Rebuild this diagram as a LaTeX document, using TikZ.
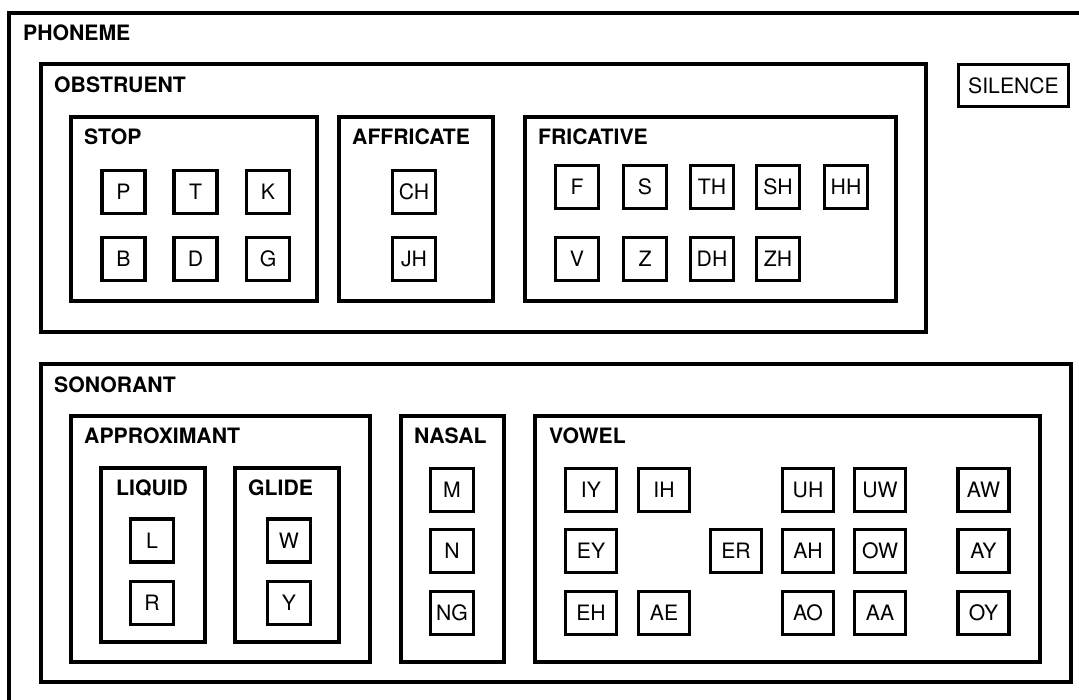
\documentclass[tikz,border=0pt]{standalone}
\usepackage{fontspec}
\setmainfont{TeX Gyre Heros}
\begin{document}
\begin{tikzpicture}[x=1pt,y=-1pt,
  grp/.style={draw=black,line width=3.7pt},
  glab/.style={anchor=base west,inner sep=0pt,font=\fontsize{21.2}{25}\selectfont\bfseries},
  ph/.style={draw=black,line width=3.7pt,minimum width=43pt,minimum height=43pt,inner sep=0pt,
    text height=15pt,text depth=0pt,font=\fontsize{21.2}{25}\selectfont},
  vw/.style={ph,minimum width=51pt}]
\useasboundingbox (0,0) rectangle (1079,699);
\fill[white] (0,0) rectangle (1079,699);
% PHONEME (open to right and bottom)
\coordinate (phTR) at (1090,13);
\coordinate (phTL) at (9,13);
\coordinate (phBL) at (9,710);
\draw[grp] (phTR) -- (phTL) -- (phBL);
\node[glab] (lPHONEME) at (23,40) {PHONEME};
% OBSTRUENT
\draw[grp] (41,64) rectangle (926,332);
\node[glab] (lOBS) at (54,92) {OBSTRUENT};
\draw[grp] (71,117) rectangle (317,301);
\node[glab] (lSTOP) at (84,144) {STOP};
\draw[grp] (339,117) rectangle (493,301);
\node[glab] (lAFF) at (352,144) {AFFRICATE};
\draw[grp] (525,117) rectangle (896,301);
\node[glab] (lFRIC) at (538,144) {FRICATIVE};
% SILENCE
\node[ph,minimum width=110pt,minimum height=42pt] (SIL) at (1013.5,85.5) {SILENCE};
% stops
\node[ph] (P) at (123.5,192) {P};
\node[ph] (T) at (195.5,192) {T};
\node[ph] (K) at (268,192) {K};
\node[ph] (B) at (123.5,259) {B};
\node[ph] (D) at (195.5,259) {D};
\node[ph] (G) at (268,259) {G};
% affricates
\node[ph] (CH) at (414,192) {CH};
\node[ph] (JH) at (414,259) {JH};
% fricatives
\node[ph] (F) at (577,187) {F};
\node[ph] (S) at (645,187) {S};
\node[ph] (TH) at (712,187) {TH};
\node[ph] (SH) at (778,187) {SH};
\node[ph] (HH) at (846,187) {HH};
\node[ph] (V) at (577,259) {V};
\node[ph] (Z) at (645,259) {Z};
\node[ph] (DH) at (712,259) {DH};
\node[ph] (ZH) at (778,259) {ZH};
% SONORANT
\draw[grp] (41,364) rectangle (1071,682);
\node[glab] (lSON) at (54,392) {SONORANT};
\draw[grp] (71,416) rectangle (370,662);
\node[glab] (lAPP) at (84,443) {APPROXIMANT};
\draw[grp] (101,468) rectangle (205,642);
\node[glab] (lLIQ) at (116,495) {LIQUID};
\draw[grp] (235,468) rectangle (339,642);
\node[glab] (lGLI) at (248,495) {GLIDE};
\draw[grp] (401,416) rectangle (504,662);
\node[glab] (lNAS) at (414,443) {NASAL};
\draw[grp] (535,416) rectangle (1040,662);
\node[glab] (lVOW) at (549,443) {VOWEL};
% liquids, glides
\node[ph] (L) at (152,540.5) {L};
\node[ph] (R) at (152,603) {R};
\node[ph] (W) at (289,540.5) {W};
\node[ph] (Y) at (289,603) {Y};
% nasals
\node[ph] (M) at (452,490) {M};
\node[ph] (N) at (452,551) {N};
\node[ph] (NG) at (452,613) {NG};
% vowels
\node[vw] (IY) at (591,490) {IY};
\node[vw] (IH) at (664,490) {IH};
\node[vw] (UH) at (808,490) {UH};
\node[vw] (UW) at (880,490) {UW};
\node[vw] (AW) at (983.5,490) {AW};
\node[vw] (EY) at (591,551) {EY};
\node[vw] (ER) at (736,551) {ER};
\node[vw] (AH) at (808,551) {AH};
\node[vw] (OW) at (880,551) {OW};
\node[vw] (AY) at (983.5,551) {AY};
\node[vw] (EH) at (591,613) {EH};
\node[vw] (AE) at (664,613) {AE};
\node[vw] (AO) at (808,613) {AO};
\node[vw] (AA) at (880,613) {AA};
\node[vw] (OY) at (983.5,613) {OY};
\end{tikzpicture}
\end{document}
